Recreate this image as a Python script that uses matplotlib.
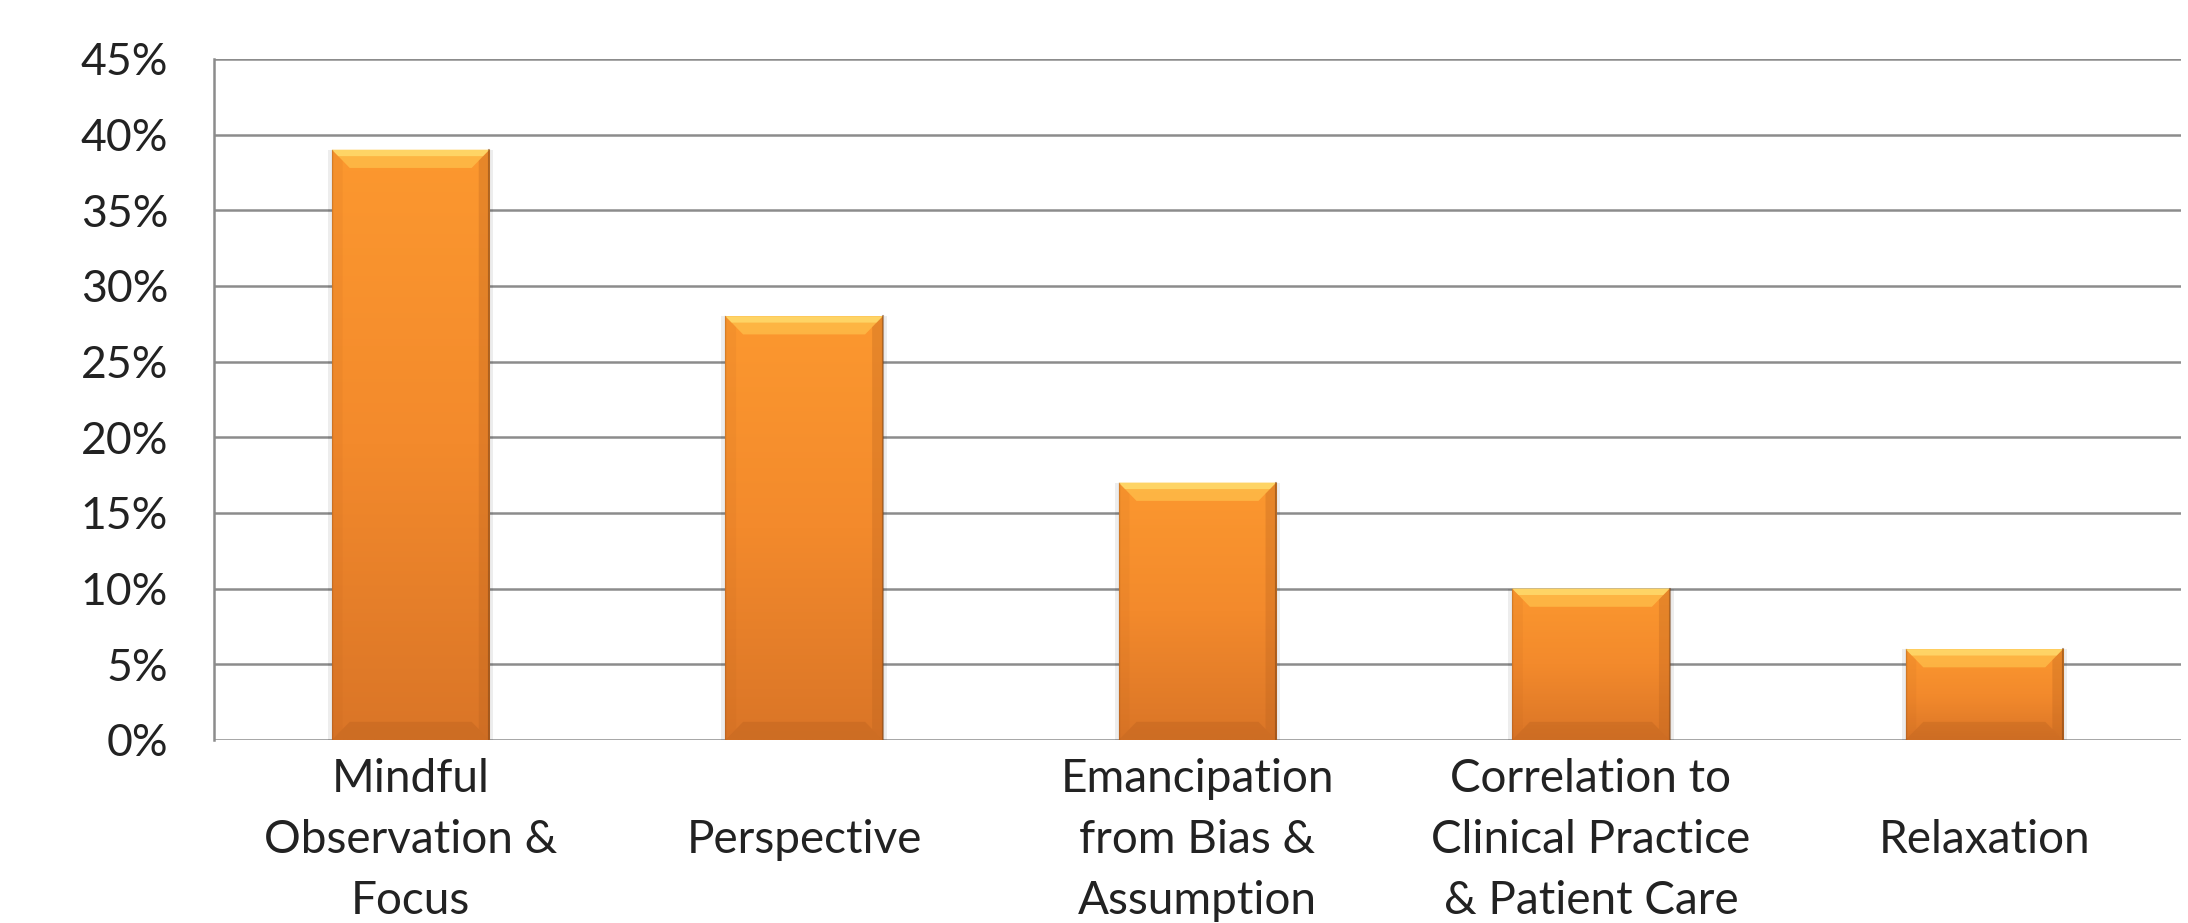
import numpy as np
import matplotlib
matplotlib.use('Agg')
import matplotlib.pyplot as plt
from matplotlib.colors import LinearSegmentedColormap
from matplotlib.patches import Polygon
from matplotlib.ticker import FuncFormatter

categories = ['Mindful\nObservation &\nFocus', 'Perspective', 'Emancipation\nfrom Bias &\nAssumption',
              'Correlation to\nClinical Practice\n& Patient Care', 'Relaxation']
values = [39, 28, 17, 10, 6]
yticks = [0, 5, 10, 15, 20, 25, 30, 35, 40, 45]

plt.rcParams['font.family'] = ['Lato', 'DejaVu Sans']

fig = plt.figure(figsize=(21.88, 9.23), dpi=100)
ax = fig.add_axes([0.0978, 0.1983, 0.899, 0.7378])

x = np.arange(len(categories))
width = 0.40
bars = ax.bar(x, values, width=width, color='#F7902C', edgecolor='none', zorder=3)

# orange body gradient plus bevelled edges on every bar
body = LinearSegmentedColormap.from_list('body', ['#DA7527', '#F38A2C', '#FC982F'])
grad = np.linspace(0, 1, 256).reshape(-1, 1)
bx = 0.045
by = 1.2
for b, h in zip(bars, values):
    x0 = b.get_x()
    x1 = x0 + b.get_width()
    # soft shadow behind the bar
    ax.bar(b.get_x() + b.get_width() / 2, h, width=width + 0.02, color='#000000', alpha=0.07, zorder=2)
    im = ax.imshow(grad, extent=[x0, x1, 0, h], origin='lower', cmap=body, aspect='auto', zorder=3)
    im.set_clip_path(b)
    # top bevel (light)
    ax.add_patch(Polygon([[x0, h], [x1, h], [x1 - bx, h - by], [x0 + bx, h - by]],
                         closed=True, color='#FFC24C', alpha=0.7, lw=0, zorder=4))
    ax.add_patch(Polygon([[x0, h], [x1, h], [x1 - bx * 0.35, h - by * 0.35], [x0 + bx * 0.35, h - by * 0.35]],
                         closed=True, color='#FFDC6E', alpha=0.8, lw=0, zorder=4))
    # right side bevel (dark)
    ax.add_patch(Polygon([[x1, 0], [x1, h], [x1 - bx * 0.6, h - by * 0.6], [x1 - bx * 0.6, by * 0.6]],
                         closed=True, color='#B8611E', alpha=0.3, lw=0, zorder=4))
    # left side bevel
    ax.add_patch(Polygon([[x0, 0], [x0, h], [x0 + bx * 0.6, h - by * 0.6], [x0 + bx * 0.6, by * 0.6]],
                         closed=True, color='#B85F1C', alpha=0.1, lw=0, zorder=4))
    # bottom bevel (darker)
    ax.add_patch(Polygon([[x0, 0], [x1, 0], [x1 - bx, by], [x0 + bx, by]],
                         closed=True, color='#A9561A', alpha=0.25, lw=0, zorder=4))
    # thin dark edges
    ax.plot([x1, x1], [0, h], color='#7A4216', lw=1.5, alpha=0.5, zorder=5)
    ax.plot([x0, x0], [0, h], color='#7A4216', lw=1.0, alpha=0.25, zorder=5)

ax.set_xlim(-0.5, len(categories) - 0.5)
ax.set_ylim(0, 45)
ax.set_yticks(yticks)
ax.yaxis.set_major_formatter(FuncFormatter(lambda v, p: '%d%%' % v))
ax.grid(axis='y', color='#8C8C8C', linewidth=1.8, zorder=0)
ax.set_axisbelow(True)

for s in ['top', 'right', 'bottom']:
    ax.spines[s].set_visible(False)
ax.spines['left'].set_color('#8C8C8C')
ax.spines['left'].set_linewidth(1.8)

ax.set_xticks(x)
ax.set_xticklabels(categories, fontsize=33, color='#222222', linespacing=1.56)
for lab in ax.get_xticklabels():
    lab.set_va('center')
ax.tick_params(axis='x', length=0, pad=72)
ax.tick_params(axis='y', length=0, pad=33, labelsize=32, labelcolor='#222222')

fig.savefig('out.png', dpi=100, facecolor='white')
